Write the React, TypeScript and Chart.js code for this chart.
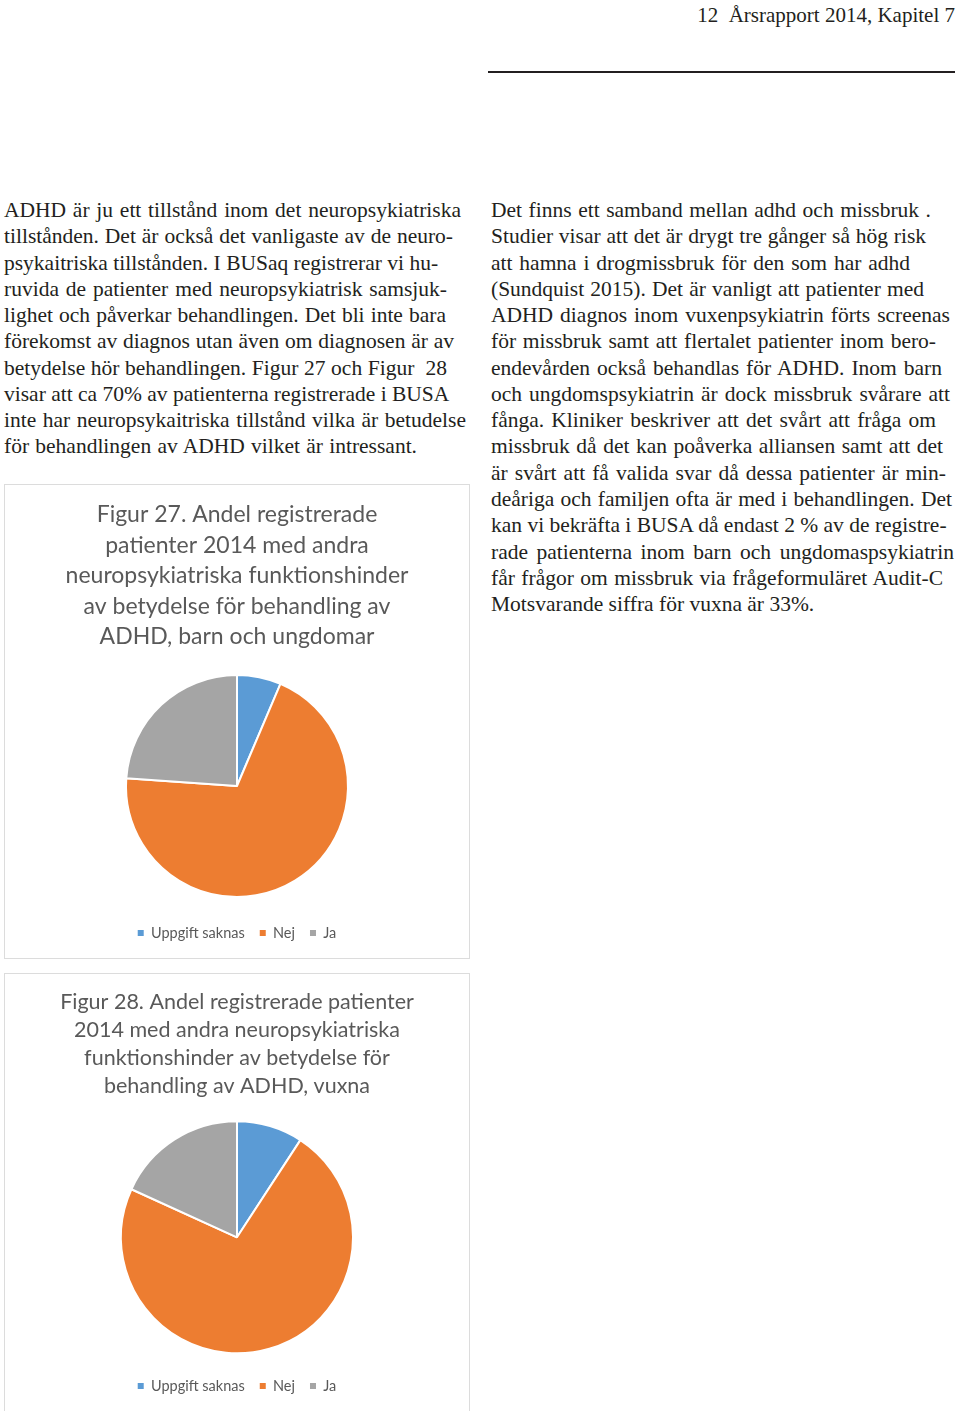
import React, { useEffect, useRef } from 'react';
import { Chart, registerables } from 'chart.js';

Chart.register(...registerables);

// ---------- chart data ----------
const categories = ['Uppgift saknas', 'Nej', 'Ja'];
const childrenShares = [6.4, 69.7, 23.9];
const adultShares = [9.2, 72.6, 18.2];
const sliceColors = ['#5B9BD5', '#ED7D31', '#A5A5A5'];

const title27 = [
  'Figur 27. Andel registrerade',
  'patienter 2014 med andra',
  'neuropsykiatriska funktionshinder',
  'av betydelse för behandling av',
  'ADHD, barn och ungdomar',
];
const title28 = [
  'Figur 28. Andel registrerade patienter',
  '2014 med andra neuropsykiatriska',
  'funktionshinder av betydelse för',
  'behandling av ADHD, vuxna',
];

// ---------- page text ----------
const headerText = '12  Årsrapport 2014, Kapitel 7';
const leftLines = [
  'ADHD är ju ett tillstånd inom det neuropsykiatriska',
  'tillstånden. Det är också det vanligaste av de neuro-',
  'psykaitriska tillstånden. I BUSaq registrerar vi hu-',
  'ruvida de patienter med neuropsykiatrisk samsjuk-',
  'lighet och påverkar behandlingen. Det bli inte bara',
  'förekomst av diagnos utan även om diagnosen är av',
  'betydelse hör behandlingen. Figur 27 och Figur  28',
  'visar att ca 70% av patienterna registrerade i BUSA',
  'inte har neuropsykaitriska tillstånd vilka är betudelse',
  'för behandlingen av ADHD vilket är intressant.',
];
const rightLines = [
  'Det finns ett samband mellan adhd och missbruk .',
  'Studier visar att det är drygt tre gånger så hög risk',
  'att hamna i drogmissbruk för den som har adhd',
  '(Sundquist 2015). Det är vanligt att patienter med',
  'ADHD diagnos inom vuxenpsykiatrin förts screenas',
  'för missbruk samt att flertalet patienter inom bero-',
  'endevården också behandlas för ADHD. Inom barn',
  'och ungdomspsykiatrin är dock missbruk svårare att',
  'fånga. Kliniker beskriver att det svårt att fråga om',
  'missbruk då det kan poåverka alliansen samt att det',
  'är svårt att få valida svar då dessa patienter är min-',
  'deåriga och familjen ofta är med i behandlingen. Det',
  'kan vi bekräfta i BUSA då endast 2 % av de registre-',
  'rade patienterna inom barn och ungdomaspsykiatrin',
  'får frågor om missbruk via frågeformuläret Audit-C',
  'Motsvarande siffra för vuxna är 33%.',
];
// layout: right edge (px) of each typeset line
const leftEnds = [461, 453, 438, 447, 446, 454, 447, 445, 466, 417];
const rightEnds = [931, 926, 910, 924, 950, 936, 942, 950, 936, 943, 946, 952, 941, 954, 943, 812];

const SERIF = "'Liberation Serif', 'Times New Roman', serif";
const TEXT_SIZE = 21.5;
const LINE_H = 26.27;
const FIRST_TOP = 197;

type PieProps = {
  top: number;
  height: number;
  titleLines: string[];
  titleSize: number;
  titleLineHeight: number;
  titlePadTop: number;
  titlePadBottom: number;
  values: number[];
  radius: number;
  legendPad: number;
  legendSize: number;
  bottomPad: number;
};

function PieBox(p: PieProps) {
  const ref = useRef<HTMLCanvasElement>(null);
  useEffect(() => {
    const chart = new Chart(ref.current as HTMLCanvasElement, {
      type: 'pie',
      data: {
        labels: categories,
        datasets: [
          {
            data: p.values,
            backgroundColor: sliceColors,
            borderColor: '#ffffff',
            borderWidth: 2,
          },
        ],
      },
      options: {
        animation: false,
        responsive: false,
        maintainAspectRatio: false,
        radius: p.radius,
        layout: { padding: { top: 0, bottom: p.bottomPad, left: 0, right: 0 } },
        plugins: {
          title: {
            display: true,
            text: p.titleLines,
            color: '#595959',
            font: { family: 'Lato', size: p.titleSize, weight: 'normal', lineHeight: p.titleLineHeight },
            padding: { top: p.titlePadTop, bottom: p.titlePadBottom },
          },
          legend: {
            position: 'bottom',
            labels: {
              boxWidth: 6,
              boxHeight: 6,
              padding: p.legendPad,
              color: '#595959',
              font: { family: 'Lato', size: p.legendSize },
              generateLabels: (c: any) =>
                (Chart.overrides as any).pie.plugins.legend.labels
                  .generateLabels(c)
                  .map((l: any) => ({ ...l, lineWidth: 0 })),
            },
          },
          tooltip: { enabled: false },
        },
      } as any,
    });
    return () => chart.destroy();
  }, []);
  return (
    <div
      style={{
        position: 'absolute',
        left: 4,
        top: p.top,
        width: 464,
        height: p.height,
        border: '1px solid #dcdcdc',
        background: '#fff',
      }}
    >
      <canvas ref={ref} width={464} height={p.height} style={{ display: 'block' }} />
    </div>
  );
}

function TextColumn({ lines, ends, left }: { lines: string[]; ends: number[]; left: number }) {
  return (
    <>
      {lines.map((t, i) => (
        <div
          key={i}
          style={{
            position: 'absolute',
            left,
            top: FIRST_TOP + i * LINE_H,
            width: ends[i] - left,
            height: LINE_H,
            lineHeight: LINE_H + 'px',
            fontFamily: SERIF,
            fontSize: TEXT_SIZE,
            color: '#231f20',
            whiteSpace: 'pre',
            textAlign: 'justify',
            textAlignLast: 'justify' as any,
          }}
        >
          {t}
        </div>
      ))}
    </>
  );
}

export default function App() {
  return (
    <div style={{ position: 'relative', width: 960, height: 1411, overflow: 'hidden', background: '#fff' }}>
      <style>{'body{margin:0;background:#fff}'}</style>
      <div
        style={{
          position: 'absolute',
          left: 600,
          width: 355,
          top: 2,
          lineHeight: LINE_H + 'px',
          fontFamily: SERIF,
          fontSize: 21,
          color: '#231f20',
          textAlign: 'right',
          whiteSpace: 'pre',
        }}
      >
        {headerText}
      </div>
      <div style={{ position: 'absolute', left: 488, top: 70.7, width: 467, height: 2.5, background: '#231f20' }} />
      <TextColumn lines={leftLines} ends={leftEnds} left={4} />
      <TextColumn lines={rightLines} ends={rightEnds} left={491} />
      <PieBox
        top={484}
        height={473}
        titleLines={title27}
        titleSize={23}
        titleLineHeight={30.5 / 23}
        titlePadTop={14.75}
        titlePadBottom={9}
        values={childrenShares}
        radius={111}
        legendPad={15}
        legendSize={14.5}
        bottomPad={7.75}
      />
      <PieBox
        top={973}
        height={440}
        titleLines={title28}
        titleSize={21.5}
        titleLineHeight={28 / 21.5}
        titlePadTop={14}
        titlePadBottom={10.85}
        values={adultShares}
        radius={116}
        legendPad={15}
        legendSize={14.5}
        bottomPad={10.75}
      />
    </div>
  );
}
